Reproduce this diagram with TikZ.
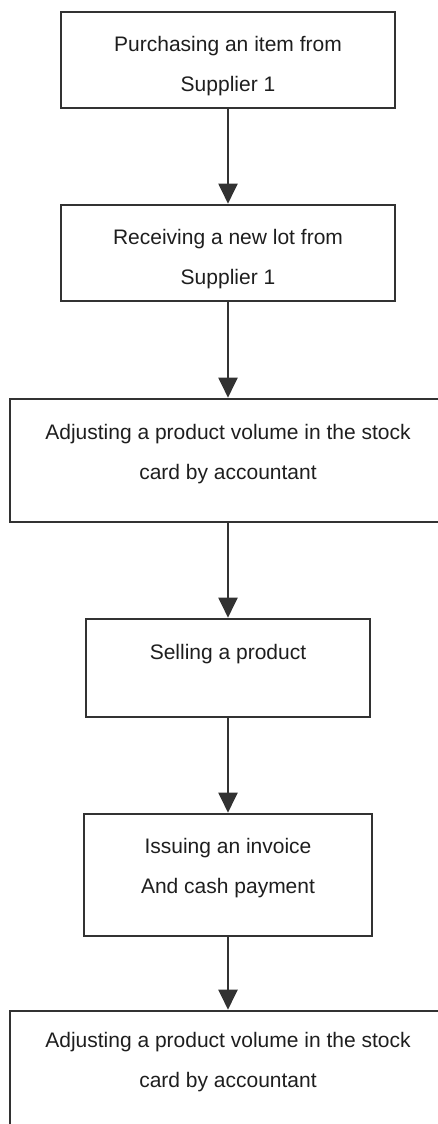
\documentclass[tikz,border=0pt]{standalone}
\usepackage{fontspec}
\setmainfont{Liberation Sans}
\usetikzlibrary{arrows.meta}
\definecolor{LineGray}{RGB}{50,50,50}
\definecolor{TextGray}{RGB}{30,30,30}

\begin{document}
\begin{tikzpicture}[x=0.5pt, y=-0.5pt, >={Triangle[width=9.5pt, length=10pt]},
  box/.style={draw=LineGray, line width=1.3pt, inner sep=0pt},
  txt/.style={text=TextGray, font=\fontsize{10.5}{20}\selectfont, align=center, anchor=base, inner sep=0pt}]
  \useasboundingbox (0,0) rectangle (438,1124);

  % boxes
  \node[box, minimum width=167pt, minimum height=48pt] (buy) at (228,60) {};
  \node[box, minimum width=167pt, minimum height=48pt] (receive) at (228,253) {};
  \node[box, minimum width=218pt, minimum height=61.5pt] (adjust) at (228,460.5) {};
  \node[box, minimum width=142pt, minimum height=49pt] (sell) at (228,668) {};
  \node[box, minimum width=144pt, minimum height=61pt] (invoice) at (228,875) {};
  \node[box, minimum width=218pt, minimum height=62pt] (adjustagain) at (228,1073) {};

  % texts (base = last line)
  \node[txt] (buytxt) at (228,91) {Purchasing an item from\\Supplier 1};
  \node[txt] (receivetxt) at (228,284) {Receiving a new lot from\\Supplier 1};
  \node[txt] (adjusttxt) at (228,479) {Adjusting a product volume in the stock\\card by accountant};
  \node[txt] (selltxt) at (228,659) {Selling a product};
  \node[txt] (invoicetxt) at (228,893) {Issuing an invoice\\And cash payment};
  \node[txt] (adjustagaintxt) at (228,1087) {Adjusting a product volume in the stock\\card by accountant};

  \draw[->, draw=LineGray, line width=1pt] (buy) -- (receive);
  \draw[->, draw=LineGray, line width=1pt] (receive) -- (adjust);
  \draw[->, draw=LineGray, line width=1pt] (adjust) -- (sell);
  \draw[->, draw=LineGray, line width=1pt] (sell) -- (invoice);
  \draw[->, draw=LineGray, line width=1pt] (invoice) -- (adjustagain);
\end{tikzpicture}
\end{document}
